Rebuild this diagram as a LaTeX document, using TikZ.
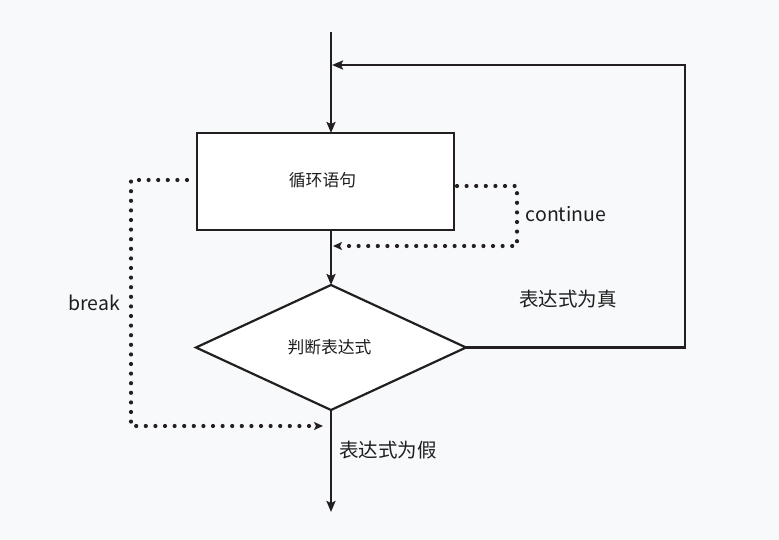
\documentclass[tikz,border=0pt]{standalone}
\usepackage{fontspec}
\setmainfont{Noto Sans CJK SC}
\usetikzlibrary{shapes.geometric,arrows.meta}
\definecolor{bgc}{HTML}{F8F9FB}
\definecolor{ink}{HTML}{231F20}
\definecolor{txt}{HTML}{1E1E1E}
\begin{document}
\begin{tikzpicture}[x=1pt,y=-1pt,
  flow/.style={draw=ink,line width=2.2pt},
  solidarrow/.style={-{Stealth[length=11pt,width=9pt,inset=2pt]}},
  dots/.style={draw=ink,line width=4.2pt,line cap=round,dash pattern=on 0pt off 9.6pt},
  dotarrow/.style={-{Stealth[length=9pt,width=8pt,inset=2pt]}},
  boxstyle/.style={draw=ink,fill=white,line width=2.2pt,minimum width=257pt,minimum height=97pt,inner sep=0pt,outer sep=0pt},
  diamstyle/.style={diamond,draw=ink,fill=white,line width=2.2pt,minimum width=270pt,minimum height=125pt,inner sep=0pt,outer sep=0pt},
  lbl/.style={text=txt,inner sep=0pt,font=\fontsize{16.8}{20}\selectfont},
  biglbl/.style={text=txt,inner sep=0pt,font=\fontsize{19.5}{23}\selectfont}]
\fill[bgc] (0,0) rectangle (779,540);
\useasboundingbox (0,0) rectangle (779,540);
\coordinate (top) at (331,32);
\coordinate (rc) at (685,65);
\coordinate (bot) at (331,512);
\coordinate (c1) at (517,186);
\coordinate (c2) at (517,246);
\coordinate (b1) at (131,180);
\coordinate (b2) at (131,426);
\node[boxstyle] (loop) at (325.5,181.5) {};
\node[lbl] (looptxt) at (322.5,180) {循环语句};
\node[diamstyle] (cond) at (331,347.5) {};
\node[lbl] (condtxt) at (329.5,347) {判断表达式};
% main flow
\draw[flow,solidarrow] (top) -- (top |- loop.north);
\draw[flow,solidarrow] (loop.south -| cond.north) -- (cond.north);
\draw[flow,solidarrow] (cond.east) -| (rc) -- ([xshift=1pt]top |- rc);
\draw[flow,solidarrow] (cond.south) -- (bot);
% continue
\draw[dots,dotarrow] ([xshift=3pt]loop.east |- c1) -- (c1) -- (c2) -- ([xshift=2pt]top |- c2);
% break
\draw[dots,dotarrow] ([xshift=-10pt]loop.west |- b1) -- (b1) -- (b2) -- ([xshift=-8pt]top |- b2);
% labels
\node[biglbl] (lcont) at (566,214) {continue};
\node[biglbl] (lbrk) at (94,303) {break};
\node[biglbl] (ltrue) at (568,299) {表达式为真};
\node[biglbl] (lfalse) at (388,450) {表达式为假};
\end{tikzpicture}
\end{document}
